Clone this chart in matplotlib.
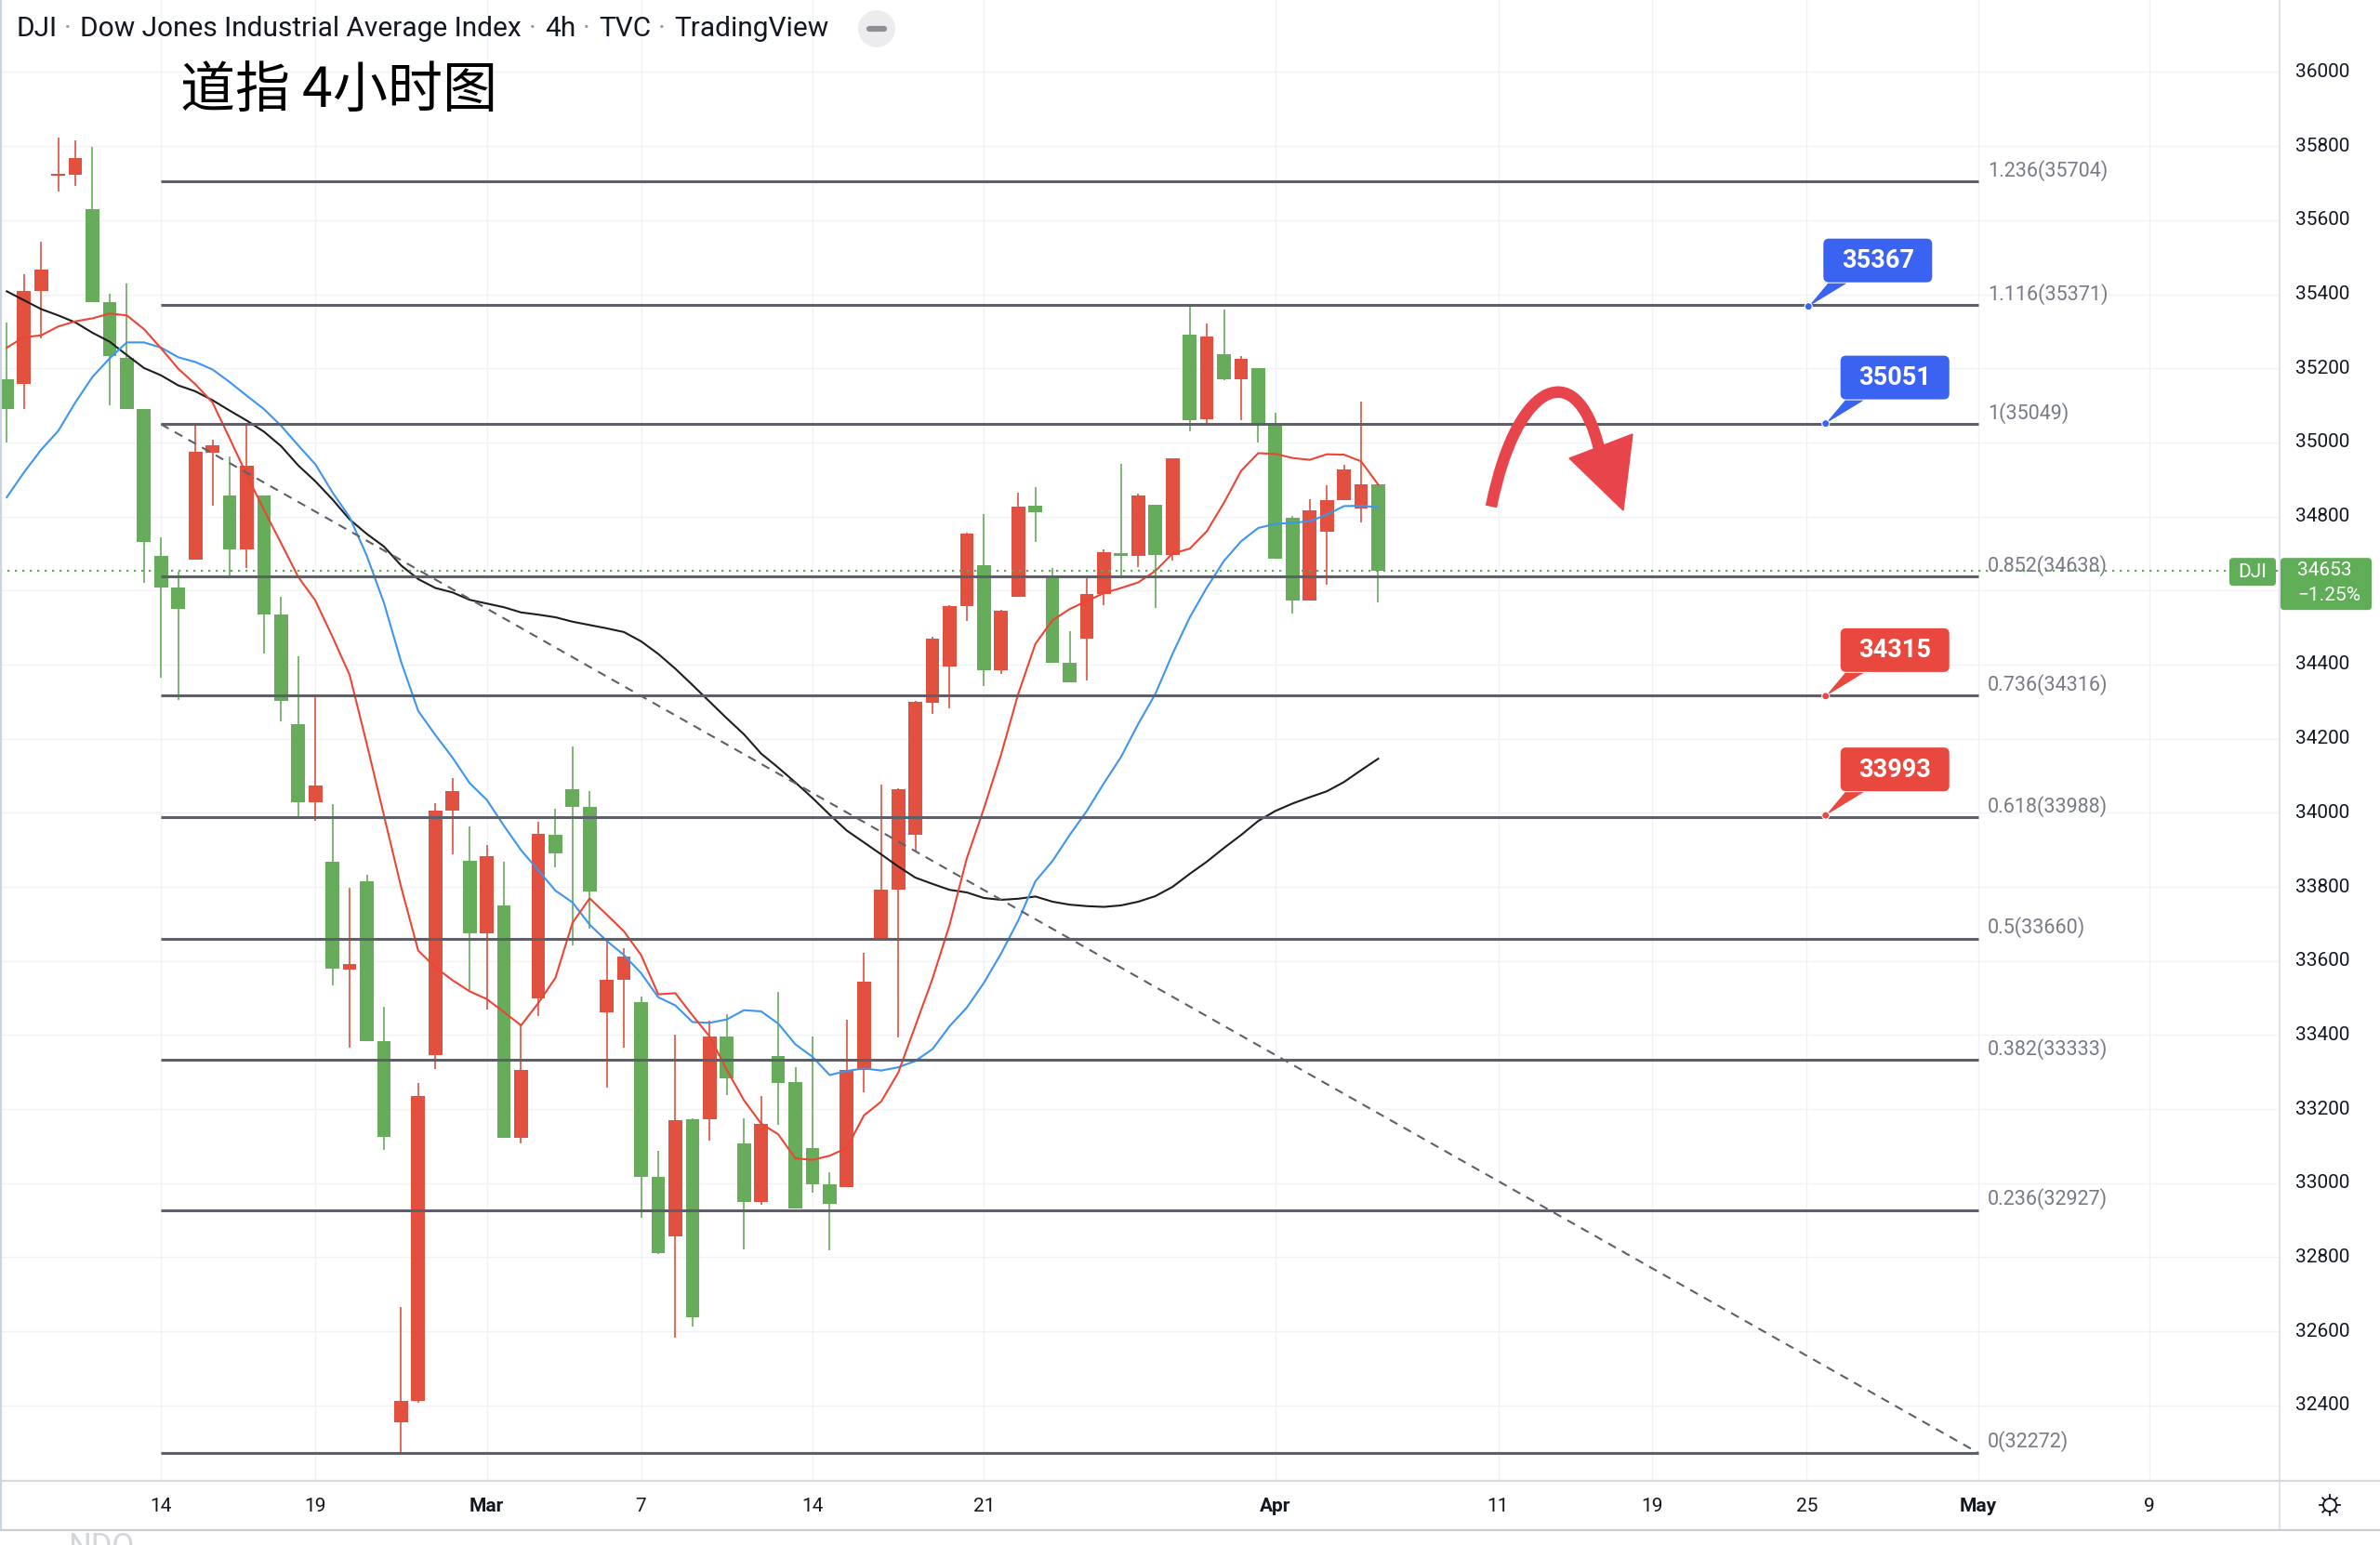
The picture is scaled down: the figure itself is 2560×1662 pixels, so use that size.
import matplotlib
matplotlib.use("Agg")
import numpy as np
import matplotlib.pyplot as plt
from matplotlib.patches import FancyBboxPatch, Polygon, Circle, PathPatch
from matplotlib.path import Path

# ---------------------------------------------------------------- data
# DJI 4h bars (oldest first). Red = close above open, green = close below open.
opens = [35171, 35159, 35408, 35720, 35722, 35630, 35378, 35227, 35090, 34694,
         34608, 34684, 34972, 34856, 34710, 34856, 34535, 34240, 34028, 33869,
         33576, 33814, 33383, 32355, 32413, 33346, 34007, 33870, 33674, 33749,
         33123, 33500, 33941, 34063, 34016, 33462, 33549, 33488, 33018, 32857,
         33172, 33173, 33396, 33107, 32950, 33344, 33273, 33094, 32998, 32989,
         33306, 33654, 33793, 33940, 34298, 34394, 34559, 34668, 34385, 34582,
         34828, 34641, 34406, 34469, 34590, 34700, 34693, 34832, 34696, 35291,
         35062, 35237, 35171, 35200, 35050, 34796, 34572, 34760, 34844, 34821,
         34886]
highs = [35323, 35455, 35542, 35822, 35816, 35799, 35402, 35430, 35090, 34743,
         34652, 35045, 35007, 34962, 35044, 34856, 34582, 34423, 34317, 34023,
         33798, 33832, 33477, 32665, 33270, 34027, 34094, 33962, 33912, 33869,
         33426, 33976, 34011, 34179, 34059, 33654, 33635, 33505, 33088, 33402,
         33176, 33439, 33456, 33176, 33235, 33516, 33312, 33397, 33029, 33442,
         33622, 34076, 34066, 34303, 34475, 34560, 34756, 34807, 34548, 34864,
         34880, 34662, 34491, 34637, 34711, 34942, 34861, 34832, 34958, 35372,
         35322, 35359, 35233, 35200, 35080, 34801, 34847, 34884, 34940, 35110,
         34886]
lows = [35001, 35090, 35281, 35678, 35693, 35378, 35099, 35090, 34621, 34366,
        34305, 34684, 34828, 34640, 34660, 34429, 34247, 33989, 33979, 33535,
        33367, 33383, 33089, 32272, 32407, 33307, 33887, 33522, 33469, 33123,
        33107, 33451, 33854, 33641, 33687, 33257, 33366, 32907, 32808, 32582,
        32612, 33116, 33238, 32822, 32941, 33157, 32931, 32974, 32818, 32989,
        33246, 33654, 33393, 33897, 34268, 34281, 34517, 34341, 34375, 34582,
        34731, 34406, 34352, 34357, 34561, 34633, 34663, 34552, 34681, 35029,
        35053, 35168, 35059, 35001, 34686, 34538, 34572, 34617, 34844, 34783,
        34568]
closes = [35090, 35408, 35467, 35724, 35768, 35378, 35232, 35090, 34730, 34608,
          34551, 34974, 34992, 34710, 34938, 34535, 34301, 34028, 34073, 33580,
          33591, 33383, 33126, 32413, 33236, 34007, 34058, 33674, 33883, 33123,
          33306, 33943, 33891, 34016, 33788, 33549, 33613, 33018, 32811, 33170,
          32639, 33396, 33284, 32950, 33159, 33271, 32931, 32998, 32944, 33306,
          33545, 33793, 34063, 34300, 34471, 34557, 34753, 34385, 34546, 34826,
          34811, 34406, 34352, 34590, 34704, 34693, 34856, 34696, 34956, 35061,
          35285, 35171, 35226, 35047, 34686, 34574, 34817, 34845, 34926, 34886,
          34653]

# moving averages, one value per bar
ma_fast = [35256, 35284, 35289, 35313, 35327, 35335, 35348, 35343, 35306, 35254,
           35199, 35157, 35108, 35011, 34912, 34818, 34728, 34637, 34573, 34475,
           34372, 34186, 33993, 33800, 33628, 33583, 33548, 33518, 33497, 33462,
           33426, 33486, 33554, 33703, 33769, 33725, 33680, 33616, 33510, 33513,
           33453, 33396, 33306, 33224, 33161, 33132, 33067, 33063, 33074, 33095,
           33183, 33220, 33298, 33425, 33552, 33698, 33877, 34012, 34157, 34321,
           34456, 34520, 34550, 34572, 34593, 34607, 34622, 34653, 34700, 34713,
           34760, 34837, 34923, 34971, 34969, 34958, 34953, 34968, 34967, 34949,
           34886]
ma_mid = [34852, 34919, 34980, 35031, 35108, 35177, 35227, 35270, 35270, 35256,
          35230, 35217, 35197, 35163, 35126, 35090, 35045, 34992, 34941, 34865,
          34798, 34694, 34567, 34408, 34275, 34210, 34149, 34080, 34035, 33965,
          33899, 33845, 33790, 33758, 33698, 33654, 33616, 33567, 33502, 33480,
          33435, 33433, 33442, 33467, 33464, 33431, 33375, 33341, 33292, 33303,
          33310, 33304, 33313, 33330, 33362, 33424, 33474, 33541, 33620, 33709,
          33815, 33870, 33940, 34005, 34080, 34151, 34240, 34321, 34429, 34527,
          34608, 34680, 34733, 34769, 34780, 34783, 34787, 34805, 34828, 34829,
          34825]
ma_slow = [35408, 35384, 35360, 35343, 35324, 35296, 35272, 35236, 35201, 35181,
           35154, 35138, 35114, 35086, 35059, 35029, 34990, 34938, 34895, 34846,
           34792, 34753, 34719, 34668, 34631, 34607, 34595, 34575, 34565, 34555,
           34541, 34535, 34528, 34516, 34507, 34498, 34488, 34463, 34429, 34389,
           34345, 34300, 34255, 34212, 34160, 34122, 34082, 34040, 33995, 33952,
           33920, 33888, 33855, 33825, 33808, 33792, 33785, 33770, 33765, 33768,
           33774, 33760, 33752, 33748, 33746, 33750, 33760, 33775, 33800, 33835,
           33868, 33905, 33940, 33978, 34005, 34025, 34042, 34058, 34083, 34115,
           34146]

# Fibonacci retracement drawn between bar 9 and bar 115
fib_ratios = [0, 0.236, 0.382, 0.5, 0.618, 0.736, 0.852, 1, 1.116, 1.236]
fib_prices = [32272, 32927, 33333, 33660, 33988, 34316, 34638, 35049, 35371, 35704]
fib_start, fib_end = 9, 115

# price callouts
callout_values = [35367, 35051, 34315, 33993]
callout_bars = [105.1, 106.1, 106.1, 106.1]
callout_colors = ["#3B63F2", "#3B63F2", "#E8483E", "#E8483E"]

# axes
price_ticks = list(range(32400, 36001, 200))
date_bars = [9, 18, 28, 37, 47, 57, 74, 87, 96, 105, 115, 125]
date_labels = ["14", "19", "Mar", "7", "14", "21", "Apr", "11", "19", "25", "May", "9"]
month_labels = {"Mar", "Apr", "May"}

last_price = 34653
last_change = "\u22121.25%"

title_parts = ["DJI", "Dow Jones Industrial Average Index", "4h", "TVC", "TradingView"]

# ---------------------------------------------------------------- style
UP = "#E2513F"
DOWN = "#66AC5B"
GRID = "#F0F2F6"
FIB = "#5D606B"
TXT = "#131722"
LATIN = ["Roboto", "DejaVu Sans"]

W, H = 2560, 1662
PLOT_R, PLOT_B = 2452, 1592

fig = plt.figure(figsize=(W / 100, H / 100), dpi=100)
fig.patch.set_facecolor("white")

ax = fig.add_axes([0, (H - PLOT_B) / H, PLOT_R / W, PLOT_B / H])
ax.set_xlim(-0.396, 132.58)
ax.set_ylim(32198.8, 36194.5)
ax.axis("off")

# overlay in figure pixels (y down) for screen-space decorations
ov = fig.add_axes([0, 0, 1, 1])
ov.set_xlim(0, W)
ov.set_ylim(H, 0)
ov.axis("off")
ov.set_zorder(5)
ov.patch.set_visible(False)


def px(x, y):
    dx, dy = ax.transData.transform((x, y))
    return dx, H - dy


# grid
for p in price_ticks:
    ax.axhline(p, color=GRID, lw=1.0, zorder=0)
for b in date_bars:
    ax.axvline(b, color=GRID, lw=1.0, zorder=0)

# candles
idx = np.arange(len(opens))
o = np.array(opens, float)
c = np.array(closes, float)
hi = np.array(highs, float)
lo = np.array(lows, float)
col = np.where(c >= o, UP, DOWN)
ax.vlines(idx, lo, hi, colors=col, lw=1.2, zorder=2)
body_lo = np.minimum(o, c)
body_h = np.maximum(np.abs(c - o), 5)
ax.bar(idx, body_h, bottom=body_lo, width=0.8, color=col, lw=0, zorder=2)

# moving averages
ax.plot(idx, ma_slow, color="#1E1E1E", lw=1.5, zorder=3)
ax.plot(idx, ma_mid, color="#3D95F0", lw=1.5, zorder=3)
ax.plot(idx, ma_fast, color="#EE4434", lw=1.5, zorder=3)

# last price line
ax.axhline(last_price, color="#5DAD55", lw=1.6, ls=(0, (1, 2.6)), zorder=3)

# fib levels + trend line
ax.hlines(fib_prices, fib_start, fib_end, color=FIB, lw=2.2, zorder=4)
ax.plot([fib_start, fib_end], [fib_prices[7], fib_prices[0]], color=FIB,
        lw=1.5, ls=(0, (4.5, 3.6)), zorder=4)
x_end, _ = px(fib_end, fib_prices[0])
for r, p in zip(fib_ratios, fib_prices):
    _, yy = px(fib_end, p)
    ov.text(x_end + 10, yy - 12, f"{r:g}({p})", ha="left", va="center",
            fontsize=15.5, color="#787B86", family=LATIN)

# ---------------------------------------------------------------- frame
ov.plot([PLOT_R, PLOT_R], [0, 1645], color="#E0E3EB", lw=1.5)
ov.plot([0, W], [1592.5, 1592.5], color="#D6D9DF", lw=1.6)
ov.plot([0, W], [1645.5, 1645.5], color="#C9CDD2", lw=1.6)
ov.plot([1, 1], [0, 1645], color="#CBD4E1", lw=1.6)

# last price badge geometry (price scale labels under it are not drawn)
_, ly = px(0, last_price)
badge_top, badge_bot = ly - 14, ly + 42

# price scale
for p in price_ticks:
    _, yy = px(0, p)
    if badge_top - 10 < yy < badge_bot + 10:
        continue
    ov.text(2498, yy, f"{p}", ha="center", va="center", fontsize=15,
            color=TXT, family=LATIN)

# time scale
for b, lab in zip(date_bars, date_labels):
    xx, _ = px(b, 0)
    ov.text(xx, 1620, lab, ha="center", va="center", fontsize=15, color=TXT,
            family=LATIN, weight="bold" if lab in month_labels else "normal")

# settings gear
gx, gy = 2506, 1619
ov.add_patch(Circle((gx, gy), 7, fill=False, ec=TXT, lw=1.3))
for a in np.linspace(0, 2 * np.pi, 8, endpoint=False):
    ov.plot([gx + 7 * np.cos(a), gx + 11 * np.cos(a)],
            [gy + 7 * np.sin(a), gy + 11 * np.sin(a)], color=TXT, lw=1.3)

# faded pane label below, partly out of frame
ov.text(73, 1647, "NDQ", ha="left", va="top", fontsize=25, color="#D3D6DB",
        family=LATIN)

# last price badges
ov.add_patch(FancyBboxPatch((2398, badge_top), 50, 30,
                            boxstyle="round,pad=0,rounding_size=4",
                            fc="#5FAD56", ec="none", zorder=10))
ov.text(2423, ly + 1, "DJI", ha="center", va="center", fontsize=15,
        color="white", family=LATIN, zorder=11)
ov.add_patch(FancyBboxPatch((2453, badge_top), 98, badge_bot - badge_top,
                            boxstyle="round,pad=0,rounding_size=4",
                            fc="#5FAD56", ec="none", zorder=10))
ov.text(2471, ly - 1, f"{last_price}", ha="left", va="center", fontsize=15,
        color="white", family=LATIN, zorder=11)
ov.text(2471, ly + 26, last_change, ha="left", va="center", fontsize=15,
        color="white", family=LATIN, zorder=11)

# ---------------------------------------------------------------- callouts
for val, b, colr in zip(callout_values, callout_bars, callout_colors):
    ax0, ay0 = px(b, val)
    left = ax0 + 16
    bottom = ay0 - 26
    ov.add_patch(Polygon([(ax0, ay0), (ax0 + 21, bottom + 1), (ax0 + 41, bottom + 1)],
                         closed=True, fc=colr, ec="none"))
    ov.add_patch(FancyBboxPatch((left, bottom - 47), 117, 47,
                                boxstyle="round,pad=0,rounding_size=6",
                                fc=colr, ec="none"))
    ov.add_patch(Circle((ax0, ay0), 4, fc=colr, ec="white", lw=0.8))
    ov.text(left + 58.5, bottom - 23, f"{val}", ha="center", va="center",
            fontsize=19.5, color="white", family=LATIN, weight="semibold")

# red turning arrow
ARROW = "#E8444B"
verts = [(1604, 545), (1632, 405), (1700, 380), (1722, 492)]
codes = [Path.MOVETO, Path.CURVE4, Path.CURVE4, Path.CURVE4]
ov.add_patch(PathPatch(Path(verts, codes), fill=False, ec=ARROW, lw=9,
                       capstyle="butt"))
ov.add_patch(Polygon([(1688, 493), (1756, 467), (1746, 549)], closed=True,
                     fc=ARROW, ec=ARROW, lw=1))

# ---------------------------------------------------------------- header
renderer = fig.canvas.get_renderer()
xcur = 17
for k, s in enumerate(title_parts):
    t = ov.text(xcur, 31, s, ha="left", va="center", fontsize=21.5, color=TXT,
                family=LATIN)
    xend = t.get_window_extent(renderer).x1
    if k < len(title_parts) - 1:
        ov.text(xend + 12, 31, "\u00b7", ha="center", va="center", fontsize=21.5,
                color="#9598A1", family=LATIN)
        xcur = xend + 25

ov.add_patch(Circle((943, 31), 20, fc="#ECECEF", ec="none"))
ov.plot([935, 951], [31, 31], color="#8E8E98", lw=4.5, solid_capstyle="round")

ov.text(194, 99, "道指 4小时图", ha="left", va="center", fontsize=42.5,
        color="black", family=["Noto Sans CJK SC", "DejaVu Sans"])

fig.savefig("out.png", dpi=100, facecolor="white")
